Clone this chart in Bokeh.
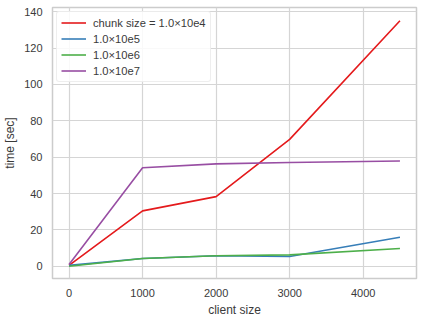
from bokeh.plotting import figure
from bokeh.models import Range1d, FixedTicker, Legend, LegendItem
from bokeh.embed import file_html
from bokeh.resources import INLINE

client_size = [0, 1000, 2000, 3000, 4500]
t_1e4 = [0.5, 30.5, 38.3, 69.8, 135.0]
t_1e5 = [0.5, 4.3, 5.8, 5.4, 16.0]
t_1e6 = [0.0, 4.3, 5.8, 6.3, 9.8]
t_1e7 = [1.0, 54.2, 56.3, 57.1, 57.9]
labels = ["chunk size = 1.0×10e4", "1.0×10e5", "1.0×10e6", "1.0×10e7"]
colors = ["#e41a1c", "#377eb8", "#4daf4a", "#984ea3"]
x_ticks = [0, 1000, 2000, 3000, 4000]
y_ticks = [0, 20, 40, 60, 80, 100, 120, 140]

FONT = "Liberation Sans"
TXT = "#3a3a3a"

p = figure(width=420, height=319, output_backend="svg", toolbar_location=None,
           x_range=Range1d(-225, 4725), y_range=Range1d(-6.7, 142.3),
           min_border_left=49, min_border_right=4, min_border_top=7, min_border_bottom=39)
p.background_fill_color = "white"
p.border_fill_color = "white"
p.outline_line_color = "#cccccc"
p.outline_line_width = 1.5

renderers = []
for ys, c in zip([t_1e4, t_1e5, t_1e6, t_1e7], colors):
    r = p.line(client_size, ys, line_color=c, line_width=1.6)
    renderers.append(r)

legend = Legend(items=[LegendItem(label=l, renderers=[r]) for l, r in zip(labels, renderers)],
                location="top_left")
legend.label_text_font = FONT
legend.label_text_font_size = "11.2px"
legend.label_text_color = TXT
legend.border_line_color = "#dddddd"
legend.border_line_width = 1
legend.border_radius = 3
legend.glyph_width = 25
legend.glyph_height = 13
legend.label_height = 13
legend.spacing = 3
legend.padding = 4
legend.margin = 4
legend.label_standoff = 7
legend.background_fill_alpha = 0.85
p.add_layout(legend)

for ax in (p.xaxis, p.yaxis):
    ax.axis_line_color = None
    ax.major_tick_line_color = None
    ax.minor_tick_line_color = None
    ax.major_tick_out = 0
    ax.major_tick_in = 0
    ax.minor_tick_out = 0
    ax.minor_tick_in = 0
    ax.major_label_text_font = FONT
    ax.major_label_text_font_size = "11px"
    ax.major_label_text_color = TXT
    ax.axis_label_text_font = FONT
    ax.axis_label_text_font_size = "12px"
    ax.axis_label_text_font_style = "normal"
    ax.axis_label_text_color = TXT

p.xaxis.ticker = FixedTicker(ticks=x_ticks)
p.yaxis.ticker = FixedTicker(ticks=y_ticks)
p.xaxis.axis_label = "client size"
p.yaxis.axis_label = "time [sec]"
p.xaxis.major_label_standoff = 10
p.yaxis.major_label_standoff = 10
p.xaxis.axis_label_standoff = 3
p.yaxis.axis_label_standoff = 4

p.xgrid.ticker = FixedTicker(ticks=x_ticks)
p.ygrid.ticker = FixedTicker(ticks=y_ticks)
p.grid.grid_line_color = "#d5d5d5"
p.grid.grid_line_width = 1.2

open("out.html", "w").write(file_html(p, INLINE))
